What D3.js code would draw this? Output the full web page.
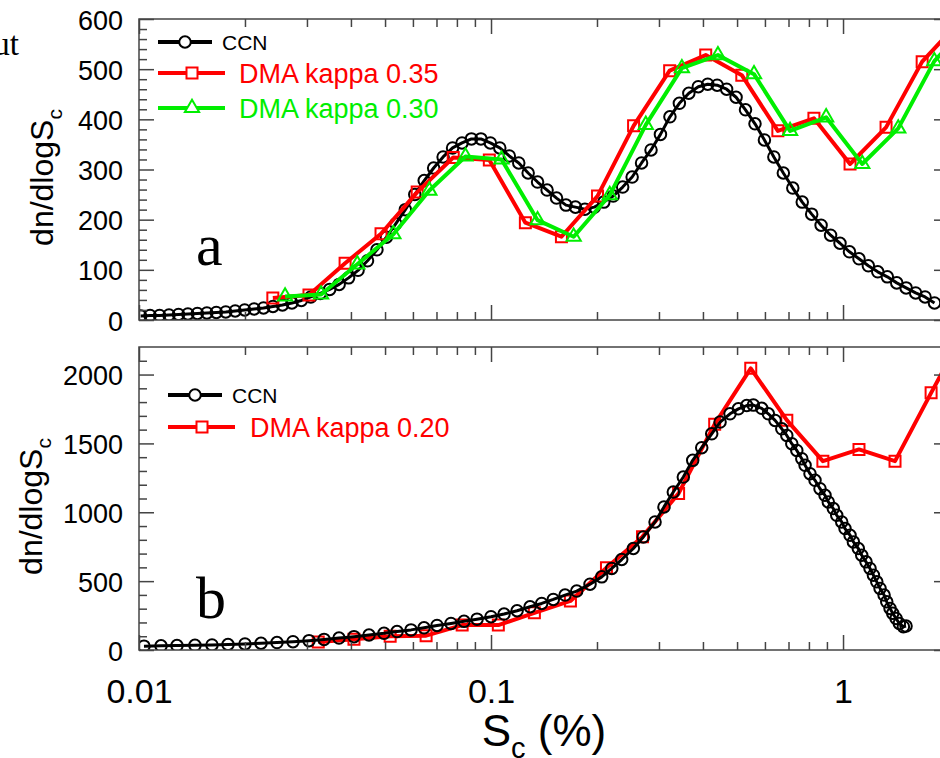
<!DOCTYPE html>
<html>
<head>
<meta charset="utf-8">
<script src="https://cdn.jsdelivr.net/npm/d3@7"></script>
<style>
body { margin: 0; background: #fff; }
svg { display: block; }
text { font-family: "Liberation Sans", Arial, sans-serif; }
</style>
</head>
<body>
<script>
// ---- data ----
// panel a: CCN spectrum
const sTop = [0.01011,0.01075,0.01144,0.01217,0.01295,0.01377,0.01465,0.01559,0.01658,0.01764,
  0.01876,0.01996,0.02123,0.02258,0.02402,0.02556,0.02719,0.02892,0.03076,0.03273,
  0.03481,0.03703,0.03939,0.04191,0.04458,0.04742,0.05045,0.05366,0.05709,0.06073,
  0.06460,0.06871,0.07310,0.07776,0.08272,0.08799,0.09361,0.09957,0.1059,0.1127,
  0.1199,0.1275,0.1356,0.1443,0.1535,0.1633,0.1737,0.1848,0.1965,0.2091,
  0.2224,0.2366,0.2517,0.2677,0.2848,0.3029,0.3223,0.3428,0.3647,0.3880,
  0.4127,0.4390,0.4670,0.4968,0.5284,0.5622,0.5980,0.6361,0.6767,0.7199,
  0.7658,0.8146,0.8663,0.9218,0.9804,1.043,1.110,1.180,1.255,1.336,
  1.421,1.511,1.608,1.710,1.819];
const ccnTop = [8,9,9,10,11,12,13,14,15,16,
  18,20,22,24,27,30,34,39,46,53,
  61,71,84,99,118,140,165,192,220,250,
  278,303,325,343,353,361,361,353,343,327,
  313,293,275,259,243,229,225,221,225,235,
  247,265,285,313,339,370,405,432,452,465,
  470,468,460,444,419,391,359,325,293,263,
  235,211,189,169,153,136,122,108,96,86,
  74,64,54,46,34];
// panel a: DMA derived spectra
const sDma035 = [0.0240,0.0304,0.0385,0.0487,0.0617,0.0781,0.0989,0.1252,0.1585,0.2007,
  0.2541,0.3217,0.4073,0.5157,0.6529,0.8266,1.047,1.325,1.678,2.124];
const dma035 = [44,50,113,172,255,324,319,194,166,247,387,497,528,488,377,402,311,384,515,592];
const sDma030 = [0.0260,0.0329,0.0417,0.0528,0.0668,0.0846,0.1071,0.1356,0.1717,0.2174,
  0.2752,0.3485,0.4412,0.5586,0.7072,0.8954,1.134,1.435,1.817,2.301];
const dma030 = [47,51,111,171,258,326,320,199,166,249,389,502,528,490,377,404,311,382,516,595];

// panel b: CCN spectrum
const sBot = [0.01033,0.01155,0.01282,0.01442,0.01612,0.01790,0.02000,0.02221,0.02466,0.02738,
  0.03041,0.03355,0.03700,0.04081,0.04502,0.04966,0.05408,0.05926,0.06453,0.07025,
  0.07697,0.08381,0.09126,0.1,0.1089,0.1186,0.1291,0.1393,0.1503,0.1623,
  0.1752,0.1911,0.2063,0.2203,0.2351,0.2537,0.2708,0.2924,0.3100,0.3295,
  0.3518,0.3741,0.3968,0.4236,0.4474,0.4775,0.5043,0.5326,0.5563,0.5875,
  0.6135,0.6411,0.6699,0.6922,0.7152,0.7390,0.7636,0.7801,0.8057,0.8325,
  0.8602,0.8888,0.9081,0.9384,0.9596,0.9915,1.013,1.047,1.070,1.105,
  1.130,1.162,1.193,1.220,1.247,1.274,1.308,1.331,1.360,1.384,
  1.415,1.445,1.484,1.510];
const ccnBot = [28,30,32,34,37,40,44,49,54,60,
  68,77,87,97,109,121,134,146,161,178,
  193,208,224,242,261,285,314,338,367,399,
  428,478,531,592,657,737,821,930,1039,1147,
  1256,1377,1469,1570,1655,1715,1751,1775,1778,1755,
  1715,1667,1606,1558,1498,1449,1389,1341,1280,1232,
  1171,1123,1075,1027,978,930,882,833,785,737,
  688,640,592,543,495,447,399,350,302,266,
  229,193,169,174];
// panel b: DMA derived spectrum
const sDma020 = [0.0323,0.0408,0.0517,0.0654,0.0828,0.1049,0.1328,0.1681,0.2128,0.2694,
  0.3411,0.4319,0.5468,0.6923,0.8765,1.110,1.405,1.779,2.252];
const dma020 = [58,78,100,104,181,181,270,356,597,823,1137,1640,2045,1669,1371,1456,1371,1867,2350];

const xMajor = [0.01, 0.1, 1];
const xTickLabels = ["0.01", "0.1", "1"];
const xMinor = [0.02,0.03,0.04,0.05,0.06,0.07,0.08,0.09,0.2,0.3,0.4,0.5,0.6,0.7,0.8,0.9];
const yTopMajor = [0, 100, 200, 300, 400, 500, 600];
const yBotMajor = [0, 500, 1000, 1500, 2000];

const RED = "#ff0000", GREEN = "#00ee00", AXIS = "#444";
const SERIF = "'Liberation Serif', 'Times New Roman', serif";

const svg = d3.select("body").append("svg")
    .attr("width", 940)
    .attr("height", 758);

const x = d3.scaleLog().domain([0.01, 2]).range([139, 949]);

function sym(type, size) {
    return d3.symbol().type(type).size(size)();
}
const circlePath = sym(d3.symbolCircle, 104);
const squarePath = sym(d3.symbolSquare, 121);
const trianglePath = sym(d3.symbolTriangle, 88);

function tickGroup(axisFn, scale, values, size, tx, ty, fmt) {
    const g = svg.append("g")
        .attr("transform", `translate(${tx},${ty})`)
        .attr("color", AXIS)
        .call(axisFn(scale).tickValues(values).tickSize(-size).tickFormat(fmt || (() => "")));
    g.select(".domain").remove();
    g.selectAll("line").attr("stroke-width", 1.5);
    return g;
}

function drawSeries(g, y, xs, ys, color, width, markerPath) {
    const pts = xs.map((s, i) => [s, ys[i]]);
    g.append("path")
        .datum(pts)
        .attr("fill", "none")
        .attr("stroke", color)
        .attr("stroke-width", width)
        .attr("stroke-linejoin", "round")
        .attr("d", d3.line().x(d => x(d[0])).y(d => y(d[1])));
    g.selectAll(null)
        .data(pts)
        .enter()
        .append("path")
        .attr("d", markerPath)
        .attr("transform", d => `translate(${x(d[0])},${y(d[1])})`)
        .attr("fill", "none")
        .attr("stroke", color)
        .attr("stroke-width", 2);
}

function panel(cfg) {
    const y = d3.scaleLinear().domain([0, cfg.yMax]).range([cfg.bottom, cfg.top]);
    const clipId = "clip" + cfg.name;
    svg.append("clipPath").attr("id", clipId)
        .append("rect")
        .attr("x", 139).attr("y", cfg.top)
        .attr("width", 810).attr("height", cfg.bottom - cfg.top);
    const g = svg.append("g").attr("clip-path", `url(#${clipId})`);
    cfg.series.forEach(s => drawSeries(g, y, s.x, s.y, s.color, s.width, s.marker));

    // frame
    svg.append("rect")
        .attr("x", 139).attr("y", cfg.top)
        .attr("width", 810).attr("height", cfg.bottom - cfg.top)
        .attr("fill", "none").attr("stroke", AXIS).attr("stroke-width", 1.5);

    // x ticks, inward on bottom and top edges
    const xb = tickGroup(d3.axisBottom, x, xMajor, 15, 0, cfg.bottom,
        cfg.xLabels ? ((d, i) => xTickLabels[i]) : null);
    tickGroup(d3.axisBottom, x, xMinor, 8, 0, cfg.bottom);
    tickGroup(d3.axisTop, x, xMajor, 15, 0, cfg.top);
    tickGroup(d3.axisTop, x, xMinor, 8, 0, cfg.top);
    if (cfg.xLabels) {
        xb.attr("font-size", 34).attr("font-family", null);
        xb.selectAll("text").attr("fill", "#000").attr("y", 53).attr("dy", 0);
    }

    // y ticks, inward on left and right edges
    const yl = tickGroup(d3.axisLeft, y, cfg.yMajor, 15, 139, 0, d => d);
    yl.attr("font-size", 27).attr("font-family", null);
    yl.selectAll("text").attr("fill", "#000").attr("x", -16).attr("dy", "0.37em");
    tickGroup(d3.axisLeft, y, cfg.yMinor, 8, 139, 0);
    tickGroup(d3.axisRight, y, cfg.yMajor, 15, 949, 0);
    tickGroup(d3.axisRight, y, cfg.yMinor, 8, 949, 0);

    // y title
    const t = svg.append("text")
        .attr("transform", `translate(${cfg.titleX},${(cfg.top + cfg.bottom) / 2 + 8}) rotate(-90)`)
        .attr("text-anchor", "middle")
        .attr("font-size", 32);
    t.append("tspan").text("dn/dlogS");
    t.append("tspan").attr("font-size", 21).attr("dy", 9).text("c");

    // panel letter
    svg.append("text")
        .attr("x", 196).attr("y", cfg.letterY)
        .style("font-family", SERIF)
        .attr("font-size", 60)
        .text(cfg.name);

    // legend
    cfg.legend.forEach(l => {
        svg.append("line")
            .attr("x1", l.x1).attr("x2", l.x2).attr("y1", l.y).attr("y2", l.y)
            .attr("stroke", l.color).attr("stroke-width", 4);
        svg.append("path")
            .attr("d", l.marker)
            .attr("transform", `translate(${l.mx},${l.y})`)
            .attr("fill", "#fff").attr("stroke", l.color).attr("stroke-width", 2);
        svg.append("text")
            .attr("x", l.tx).attr("y", l.ty)
            .attr("font-size", l.fs)
            .attr("fill", l.color)
            .text(l.label);
    });
}

panel({
    name: "a", top: 19, bottom: 320, yMax: 600,
    yMajor: yTopMajor, yMinor: d3.range(20, 600, 20).filter(v => v % 100),
    xLabels: false, titleX: 53, letterY: 265,
    series: [
        {x: sTop, y: ccnTop, color: "#000", width: 3, marker: circlePath},
        {x: sDma035, y: dma035, color: RED, width: 4, marker: squarePath},
        {x: sDma030, y: dma030, color: GREEN, width: 4, marker: trianglePath}
    ],
    legend: [
        {x1: 158, x2: 212, y: 42, mx: 185, color: "#000", marker: circlePath, tx: 222, ty: 50, fs: 21, label: "CCN"},
        {x1: 158, x2: 225, y: 73, mx: 192, color: RED, marker: squarePath, tx: 239, ty: 83, fs: 27, label: "DMA kappa 0.35"},
        {x1: 158, x2: 225, y: 108, mx: 192, color: GREEN, marker: trianglePath, tx: 239, ty: 118, fs: 27, label: "DMA kappa 0.30"}
    ]
});

panel({
    name: "b", top: 347, bottom: 650, yMax: 2200,
    yMajor: yBotMajor, yMinor: d3.range(100, 2200, 100).filter(v => v % 500),
    xLabels: true, titleX: 42, letterY: 618,
    series: [
        {x: sDma020, y: dma020, color: RED, width: 4, marker: squarePath},
        {x: sBot, y: ccnBot, color: "#000", width: 3, marker: circlePath}
    ],
    legend: [
        {x1: 168, x2: 222, y: 395, mx: 195, color: "#000", marker: circlePath, tx: 232, ty: 403, fs: 21, label: "CCN"},
        {x1: 168, x2: 235, y: 427, mx: 202, color: RED, marker: squarePath, tx: 250, ty: 437, fs: 27, label: "DMA kappa 0.20"}
    ]
});

// x axis title
const xt = svg.append("text")
    .attr("x", 544).attr("y", 746)
    .attr("text-anchor", "middle")
    .attr("font-size", 44);
xt.append("tspan").text("S");
xt.append("tspan").attr("font-size", 29).attr("dy", 12).text("c");
xt.append("tspan").attr("dy", -12).text(" (%)");

// fragment of neighbouring text at the top left corner
svg.append("text")
    .attr("x", 19).attr("y", 55)
    .attr("text-anchor", "end")
    .style("font-family", SERIF)
    .attr("font-size", 33)
    .text("ut");
</script>
</body>
</html>
